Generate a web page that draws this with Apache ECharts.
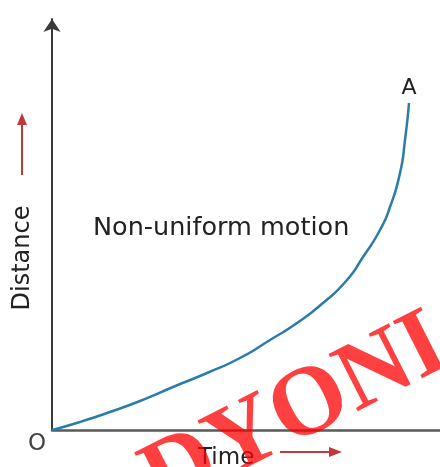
<!DOCTYPE html>
<html>
<head>
<meta charset="utf-8">
<script src="https://cdn.jsdelivr.net/npm/echarts@6/dist/echarts.min.js"></script>
<style>
html, body { margin: 0; padding: 0; background: #fff; }
#chart { width: 440px; height: 467px; }
</style>
</head>
<body>
<div id="chart"></div>
<script>
// time / distance (arbitrary units, origin at O)
var timeVals = [0, 28, 55, 88, 121, 155, 188, 218, 245, 271, 295, 311, 328, 338, 348, 353, 357];
var distVals = [0, 8, 17, 29, 43, 57, 72, 90, 107, 127, 150, 173, 200, 223, 257, 290, 327];
var pointName = 'A';
var curveText = 'Non-uniform motion';
var xName = 'Time';
var yName = 'Distance';
var originName = 'O';
var stamp = 'DYONI';

var seriesData = timeVals.map(function (t, i) { return [t, distVals[i]]; });
var last = seriesData[seriesData.length - 1];

var red = '#c0393b';
var ink = '#222';

var chart = echarts.init(document.getElementById('chart'));
chart.setOption({
    animation: false,
    grid: { left: 52, right: 0, top: 19, bottom: 37 },
    xAxis: {
        type: 'value',
        min: 0,
        max: 388,
        axisLine: { lineStyle: { color: '#5a5a5a', width: 2.5 } },
        axisTick: { show: false },
        axisLabel: { show: false },
        splitLine: { show: false }
    },
    yAxis: {
        type: 'value',
        min: 0,
        max: 411,
        axisLine: {
            show: true,
            symbol: ['none', 'arrow'],
            symbolSize: [13, 13],
            lineStyle: { color: '#3a3a3a', width: 2 }
        },
        axisTick: { show: false },
        axisLabel: { show: false },
        splitLine: { show: false }
    },
    series: [{
        type: 'line',
        data: seriesData,
        smooth: 0.6,
        showSymbol: false,
        lineStyle: { color: '#2b7bab', width: 2.5 },
        markPoint: {
            symbol: 'circle',
            symbolSize: 0,
            label: {
                show: true,
                position: 'top',
                distance: 4,
                formatter: pointName,
                color: ink,
                fontFamily: 'DejaVu Sans',
                fontSize: 22
            },
            data: [{ coord: last }]
        }
    }],
    graphic: [
        {
            type: 'text', left: 93, top: 215,
            style: { text: curveText, fill: ink, font: '25.5px "DejaVu Sans"' }
        },
        {
            type: 'text', x: 23, y: 258, rotation: Math.PI / 2,
            style: { text: yName, fill: ink, font: '24px "DejaVu Sans"', align: 'center', verticalAlign: 'middle' }
        },
        {
            type: 'text', x: 198, y: 458,
            style: { text: xName, fill: ink, font: '23px "DejaVu Sans"', align: 'left', verticalAlign: 'middle' }
        },
        {
            type: 'text', x: 37, y: 444,
            style: { text: originName, fill: '#444', font: '23px "DejaVu Sans"', align: 'center', verticalAlign: 'middle' }
        },
        // red direction arrows
        { type: 'line', shape: { x1: 22, y1: 175, x2: 22, y2: 122 }, style: { stroke: red, lineWidth: 2 } },
        { type: 'polygon', shape: { points: [[22, 113], [17, 125], [27, 125]] }, style: { fill: red } },
        { type: 'line', shape: { x1: 280, y1: 452, x2: 332, y2: 452 }, style: { stroke: red, lineWidth: 2 } },
        { type: 'polygon', shape: { points: [[342, 452], [329, 447], [329, 457]] }, style: { fill: red } },
        // watermark stamp
        {
            type: 'text', x: 296, y: 414, rotation: 0.47, z: 100,
            style: {
                text: stamp,
                fill: 'rgba(255,0,0,0.75)',
                font: 'bold 98px "Liberation Serif"',
                align: 'center',
                verticalAlign: 'middle'
            }
        }
    ]
});
</script>
</body>
</html>
